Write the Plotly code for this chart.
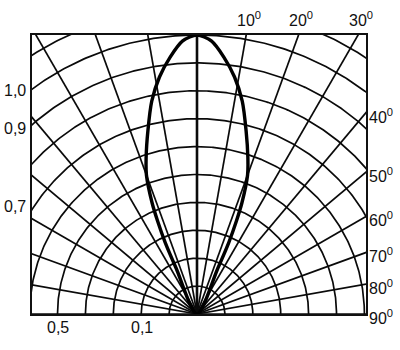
import numpy as np
import plotly.graph_objects as go

# ---- data ----
circle_radii = [1, 2, 3, 4, 5, 6, 7, 8, 9, 10, 11, 12]           # grid circles (R = 10 -> 1.0)
ray_angles = [-90, -80, -70, -60, -50, -40, -30, -20, -10, 0,
              10, 20, 30, 40, 50, 60, 70, 80, 90]                  # degrees from vertical
lobe_angles = [0, 3, 6, 9, 12, 15, 18, 20, 22, 23, 24, 24.5, 25]
lobe_values = [1.0, 0.98, 0.925, 0.86, 0.78, 0.68, 0.59, 0.53, 0.43, 0.36, 0.28, 0.18, 0.0]
R_MAX = 10.0
top_labels = ["10<sup>0</sup>", "20<sup>0</sup>", "30<sup>0</sup>"]
top_label_angles = [10, 20, 30]
right_labels = ["40<sup>0</sup>", "50<sup>0</sup>", "60<sup>0</sup>", "70<sup>0</sup>",
                "80<sup>0</sup>", "90<sup>0</sup>"]
right_label_angles = [40, 50, 60, 70, 80, 90]
left_labels = ["1,0", "0,9", "0,7"]
left_label_y = [8.0, 6.65, 3.85]          # vertical positions (data units)
bottom_labels = ["0,5", "0,1"]
bottom_label_x = [-5.0, -1.98]            # horizontal positions (data units)

# ---- geometry of the frame (data units) ----
PX = 27.9
X0, X1 = -(197 - 32) / PX, (366 - 197) / PX
Y0, Y1 = 0.0, 10.0

fig = go.Figure()
line_col = "#0a0a0a"

# grid circles
t = np.radians(np.linspace(-90, 90, 361))
for r in circle_radii:
    fig.add_trace(go.Scatter(x=r * np.sin(t), y=r * np.cos(t), mode="lines",
                             line=dict(color=line_col, width=1.7),
                             hoverinfo="skip", showlegend=False))
# rays
for a in ray_angles:
    ar = np.radians(a)
    fig.add_trace(go.Scatter(x=[0, 14 * np.sin(ar)], y=[0, 14 * np.cos(ar)], mode="lines",
                             line=dict(color=line_col, width=2.6 if a == 0 else 1.7),
                             hoverinfo="skip", showlegend=False))

# lobe (symmetric)
ang = [-a for a in lobe_angles[::-1]] + lobe_angles[1:]
val = lobe_values[::-1] + lobe_values[1:]
ang_r = np.radians(ang)
rv = np.array(val) * R_MAX
fig.add_trace(go.Scatter(x=rv * np.sin(ang_r), y=rv * np.cos(ang_r), mode="lines",
                         line=dict(color="#000000", width=3.4, shape="spline", smoothing=0.8),
                         hoverinfo="skip", showlegend=False))

font = dict(family="Liberation Sans, Arial, sans-serif", size=16, color="#111111")
ann = []
for lab, a in zip(top_labels, top_label_angles):
    xa = Y1 * np.tan(np.radians(a))
    ann.append(dict(x=xa + 0.1, y=Y1, xref="x", yref="y", text=lab, showarrow=False,
                    xanchor="center", yanchor="bottom", yshift=4, font=font))
for lab, a in zip(right_labels, right_label_angles):
    yr = X1 / np.tan(np.radians(a)) if a < 90 else 0.0
    ann.append(dict(x=X1, y=yr, xref="x", yref="y", text=lab, showarrow=False,
                    xanchor="left", yanchor="middle", xshift=1, yshift=-3, font=font))
for lab, yv in zip(left_labels, left_label_y):
    ann.append(dict(x=X0, y=yv, xref="x", yref="y", text=lab, showarrow=False,
                    xanchor="right", yanchor="middle", xshift=-4, font=font))
for lab, xv in zip(bottom_labels, bottom_label_x):
    ann.append(dict(x=xv, y=Y0, xref="x", yref="y", text=lab, showarrow=False,
                    xanchor="center", yanchor="top", yshift=-3, font=font))

fig.update_layout(
    width=400, height=350,
    margin=dict(l=32, r=34, t=35, b=36),
    paper_bgcolor="white", plot_bgcolor="white",
    annotations=ann,
    xaxis=dict(range=[X0, X1], showgrid=False, zeroline=False, showticklabels=False,
               ticks="", showline=True, mirror=True, linecolor="#111111", linewidth=2.4),
    yaxis=dict(range=[Y0, Y1], showgrid=False, zeroline=False, showticklabels=False,
               ticks="", showline=True, mirror=True, linecolor="#111111", linewidth=2.4),
)
fig.write_html("out.html")
